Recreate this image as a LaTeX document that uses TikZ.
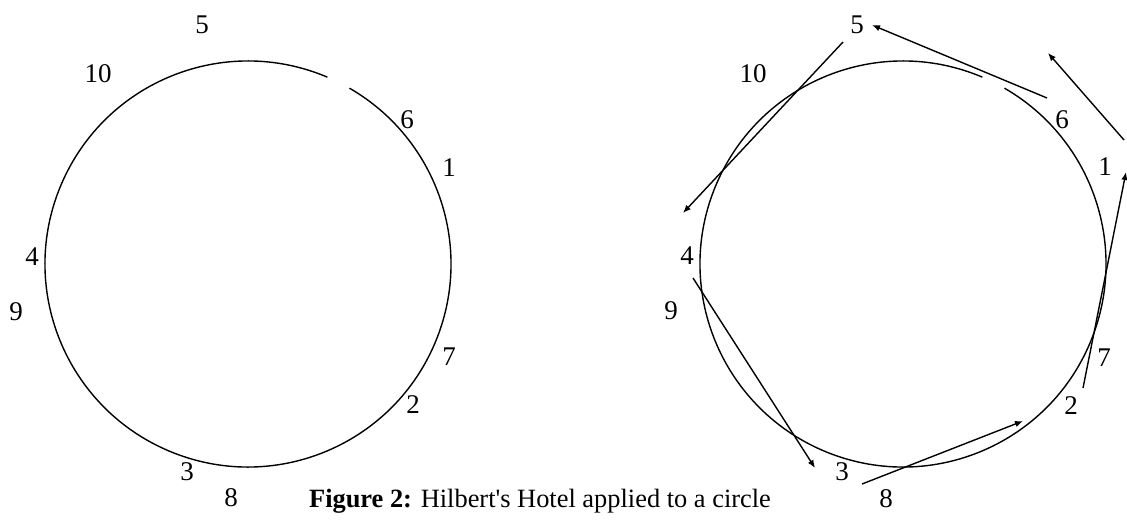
\documentclass[tikz,border=0pt]{standalone}
\usepackage{fontspec}
\setmainfont{Liberation Serif}
\usetikzlibrary{arrows.meta}
\begin{document}
\begin{tikzpicture}[x=0.5pt,y=-0.5pt,
  lbl/.style={inner sep=0pt,font=\fontsize{13.5pt}{15pt}\selectfont},
  caption/.style={inner sep=0pt,font=\fontsize{13.2pt}{15pt}\selectfont},
  ring/.style={line width=0.7pt},
  move/.style={line width=0.7pt,-{Latex[length=4pt,width=3.2pt]}}]
\useasboundingbox (0,0) rectangle (1127,519);
% left circle
\coordinate (cL) at (248,264);
\draw[ring] (cL) ++(67:101.5pt) arc[start angle=67,end angle=420,radius=101.5pt];
\node[lbl] (l5) at (202,25) {5};
\node[lbl] (l10) at (98,74) {10};
\node[lbl] (l6) at (407,120) {6};
\node[lbl] (l1) at (449,168) {1};
\node[lbl] (l4) at (32,257) {4};
\node[lbl] (l9) at (16,312) {9};
\node[lbl] (l7) at (449,357) {7};
\node[lbl] (l2) at (413,405) {2};
\node[lbl] (l3) at (187,472) {3};
\node[lbl] (l8) at (231,498) {8};
% right circle
\coordinate (cR) at (903,264);
\draw[ring] (cR) ++(67:101.5pt) arc[start angle=67,end angle=420,radius=101.5pt];
\node[lbl] (r5) at (857,25) {5};
\node[lbl] (r10) at (753,74) {10};
\node[lbl] (r6) at (1062,120) {6};
\node[lbl] (r1) at (1105,167) {1};
\node[lbl] (r4) at (687,256) {4};
\node[lbl] (r9) at (671,311) {9};
\node[lbl] (r7) at (1104,358) {7};
\node[lbl] (r2) at (1071,406) {2};
\node[lbl] (r3) at (842,472) {3};
\node[lbl] (r8) at (886,499) {8};
% arrows
\coordinate (a1s) at (1047,98);  \coordinate (a1e) at (872,25);
\coordinate (a2s) at (1124,140); \coordinate (a2e) at (1048,53);
\coordinate (a3s) at (1083,388); \coordinate (a3e) at (1126,172);
\coordinate (a4s) at (843,42);   \coordinate (a4e) at (683,213);
\coordinate (a5s) at (693,278);  \coordinate (a5e) at (815,468);
\coordinate (a6s) at (862,484);  \coordinate (a6e) at (1023,421);
\draw[move] (a1s) -- (a1e);
\draw[move] (a2s) -- (a2e);
\draw[move] (a3s) -- (a3e);
\draw[move] (a4s) -- (a4e);
\draw[move] (a5s) -- (a5e);
\draw[move] (a6s) -- (a6e);
% caption
\node[caption] (cap) at (540,501) {\textbf{Figure 2:} Hilbert\textquotesingle s Hotel applied to a circle};
\end{tikzpicture}
\end{document}
